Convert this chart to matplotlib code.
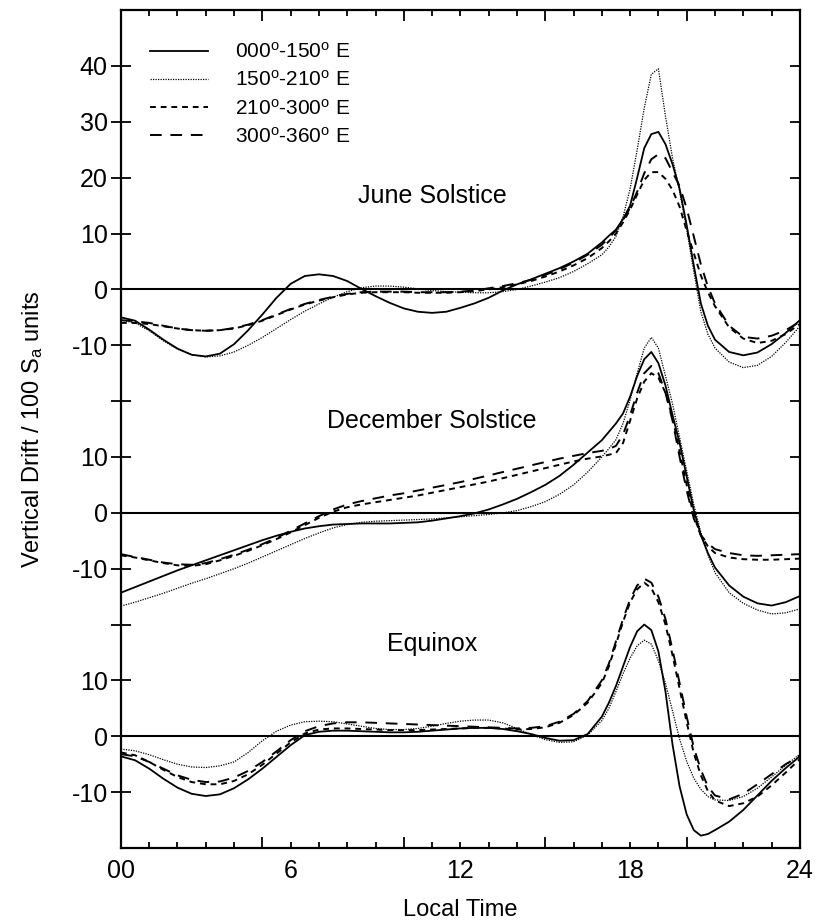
import numpy as np
import matplotlib
matplotlib.use('Agg')
import matplotlib.pyplot as plt

plt.rcParams['font.family'] = ['Liberation Sans', 'DejaVu Sans']
plt.rcParams['mathtext.fontset'] = 'custom'
plt.rcParams['mathtext.rm'] = 'Liberation Sans'
plt.rcParams['mathtext.it'] = 'Liberation Sans:italic'
plt.rcParams['axes.unicode_minus'] = False

# ---------------- data ----------------
hours = [0, 0.5, 1, 1.5, 2, 2.5, 3, 3.5, 4, 4.5, 5, 5.5, 6, 6.5, 7, 7.5, 8, 8.5,
         9, 9.5, 10, 10.5, 11, 11.5, 12, 12.5, 13, 13.5, 14, 14.5, 15, 15.5, 16, 16.5,
         17, 17.25, 17.5, 17.75, 18, 18.25, 18.5, 18.75, 19, 19.25, 19.5, 19.75,
         20, 20.25, 20.5, 20.75, 21,
         21.5, 22, 22.5, 23, 23.5, 24]

sector_labels = ['000$^\\mathrm{o}$-150$^\\mathrm{o}$ E',
                 '150$^\\mathrm{o}$-210$^\\mathrm{o}$ E',
                 '210$^\\mathrm{o}$-300$^\\mathrm{o}$ E',
                 '300$^\\mathrm{o}$-360$^\\mathrm{o}$ E']

season_names = ['June Solstice', 'December Solstice', 'Equinox']
season_offsets = [0, -40, -80]

# June solstice
june_000_150 = [-5.0, -5.6, -7.2, -9.0, -10.6, -11.7, -12.0, -11.5, -9.8, -7.3, -4.5, -1.5,
                1.0, 2.4, 2.7, 2.4, 1.5, 0.1, -1.2, -2.4, -3.4, -4.0, -4.2, -4.0, -3.3, -2.5,
                -1.5, -0.2, 0.9, 1.8, 2.8, 3.8, 5.0, 6.4,
                8.4, 9.6, 10.7, 12.6, 15.0, 20.0, 25.3, 27.8, 28.2, 26.0, 22.4, 18.0,
                11.5, 4.3, -2.5, -6.5, -9.0,
                -11.2, -11.8, -11.3, -9.8, -7.8, -5.5]
june_150_210 = [-5.5, -6.0, -7.4, -9.2, -10.7, -11.7, -12.1, -11.9, -11.2, -10.0, -8.6, -7.0,
                -5.4, -3.9, -2.6, -1.4, -0.4, 0.3, 0.6, 0.6, 0.4, 0.1, -0.2, -0.4, -0.5, -0.6,
                -0.6, -0.4, 0.0, 0.6, 1.3, 2.1, 3.2, 4.6,
                6.2, 7.6, 9.5, 13.0, 18.0, 25.0, 32.5, 38.5, 39.5, 31.0, 23.5, 17.5,
                10.8, 3.2, -4.0, -8.0, -10.5,
                -13.0, -14.0, -13.6, -12.0, -9.5, -6.6]
june_210_300 = [-6.0, -6.0, -6.2, -6.6, -7.0, -7.3, -7.4, -7.3, -7.0, -6.4, -5.6, -4.6,
                -3.6, -2.7, -2.0, -1.4, -0.9, -0.6, -0.5, -0.5, -0.5, -0.6, -0.6, -0.6, -0.5, -0.3,
                0.0, 0.4, 0.9, 1.5, 2.3, 3.2, 4.3, 5.6,
                7.4, 8.6, 10.0, 12.0, 14.3, 17.0, 19.6, 21.0, 21.0, 19.8, 17.8, 14.8,
                10.5, 6.5, 2.5, -0.5, -3.0,
                -6.8, -8.8, -9.6, -9.2, -8.0, -6.2]
june_300_360 = [-5.5, -5.7, -6.0, -6.5, -7.0, -7.3, -7.4, -7.3, -6.9, -6.3, -5.5, -4.5,
                -3.5, -2.6, -1.9, -1.3, -0.8, -0.5, -0.4, -0.4, -0.4, -0.5, -0.5, -0.5, -0.4, -0.2,
                0.2, 0.6, 1.1, 1.7, 2.6, 3.6, 4.8, 6.2,
                8.0, 9.2, 10.6, 12.4, 14.6, 17.5, 20.8, 23.3, 24.2, 23.5, 21.0, 18.5,
                14.5, 9.5, 4.5, 0.5, -2.5,
                -6.5, -8.5, -8.8, -8.3, -7.3, -5.8]

# December solstice
dec_000_150 = [-14.3, -13.3, -12.3, -11.3, -10.3, -9.4, -8.5, -7.6, -6.7, -5.8, -4.9, -4.1,
               -3.4, -2.8, -2.4, -2.1, -2.0, -1.9, -1.9, -1.9, -1.8, -1.7, -1.4, -1.0, -0.6, -0.1,
               0.6, 1.5, 2.5, 3.7, 5.0, 6.6, 8.6, 10.8,
               13.0, 14.5, 16.0, 17.8, 20.8, 24.5, 27.5, 28.8, 26.8, 22.8, 17.5, 12.5,
               6.5, 0.5, -4.0, -7.2, -9.8,
               -13.0, -15.0, -16.2, -16.6, -16.0, -14.9]
dec_150_210 = [-16.7, -16.0, -15.2, -14.4, -13.5, -12.6, -11.8, -10.9, -10.0, -9.0, -7.9, -6.8,
               -5.7, -4.6, -3.6, -2.7, -2.1, -1.7, -1.5, -1.4, -1.3, -1.2, -1.1, -0.9, -0.7, -0.5,
               -0.3, 0.0, 0.4, 1.1, 2.0, 3.3, 5.0, 7.3,
               10.0, 11.5, 13.1, 16.0, 20.2, 25.0, 29.5, 31.4, 29.5, 24.5, 19.5, 13.5,
               7.5, 1.5, -3.5, -7.5, -10.7,
               -14.3, -16.2, -17.4, -18.1, -17.9, -17.2]
dec_210_300 = [-7.6, -8.0, -8.5, -9.0, -9.4, -9.5, -9.2, -8.5, -7.7, -6.8, -5.8, -4.7,
               -3.5, -2.2, -0.9, 0.2, 1.0, 1.5, 1.9, 2.3, 2.7, 3.1, 3.6, 4.1, 4.6, 5.1,
               5.6, 6.2, 6.8, 7.4, 8.0, 8.6, 9.2, 9.7,
               10.1, 10.4, 10.7, 12.5, 16.5, 20.5, 23.5, 25.0, 24.2, 21.5, 17.0, 11.0,
               5.0, -0.5, -4.0, -6.0, -7.2,
               -8.0, -8.3, -8.4, -8.4, -8.3, -8.2]
dec_300_360 = [-7.4, -7.9, -8.4, -8.9, -9.2, -9.3, -9.0, -8.3, -7.5, -6.6, -5.6, -4.5,
               -3.2, -1.9, -0.6, 0.6, 1.5, 2.1, 2.6, 3.1, 3.5, 4.0, 4.5, 5.0, 5.5, 6.1,
               6.7, 7.3, 7.9, 8.5, 9.1, 9.7, 10.2, 10.7,
               11.1, 11.4, 12.0, 14.0, 17.5, 21.5, 25.0, 26.3, 25.0, 21.5, 16.5, 10.0,
               4.0, -1.0, -4.0, -5.5, -6.5,
               -7.2, -7.6, -7.7, -7.6, -7.5, -7.4]

# Equinox
equ_000_150 = [-3.6, -4.3, -5.8, -7.6, -9.2, -10.3, -10.7, -10.4, -9.3, -7.7, -5.8, -3.7,
               -1.6, 0.2, 0.8, 1.0, 1.0, 0.9, 0.8, 0.7, 0.7, 0.8, 1.0, 1.2, 1.4, 1.5,
               1.5, 1.3, 0.9, 0.4, -0.3, -0.8, -0.7, 0.4,
               3.5, 6.0, 9.0, 12.5, 16.0, 18.8, 20.0, 19.0, 15.2, 8.0, -1.5, -9.0,
               -14.0, -16.8, -17.8, -17.5, -16.8,
               -15.3, -13.2, -10.6, -8.0, -5.7, -3.6]
equ_150_210 = [-2.3, -2.6, -3.3, -4.2, -5.0, -5.5, -5.6, -5.3, -4.6, -2.9, -0.8, 0.9,
               2.0, 2.6, 2.7, 2.6, 2.2, 1.8, 1.4, 1.2, 1.2, 1.4, 1.8, 2.3, 2.7, 2.9,
               2.9, 2.4, 1.4, 0.3, -0.6, -1.1, -1.0, 0.2,
               2.8, 5.0, 8.0, 11.2, 14.0, 16.2, 17.2, 16.5, 13.5, 9.5, 4.5, -0.5,
               -4.5, -7.5, -9.5, -10.8, -11.4,
               -11.5, -10.8, -9.3, -7.3, -5.2, -3.2]
equ_210_300 = [-2.9, -3.4, -4.6, -6.0, -7.3, -8.2, -8.6, -8.6, -8.0, -6.8, -5.1, -3.1,
               -1.1, 0.5, 1.2, 1.4, 1.4, 1.3, 1.2, 1.1, 1.1, 1.1, 1.2, 1.3, 1.4, 1.5,
               1.5, 1.4, 1.2, 1.3, 1.6, 2.4, 3.8, 6.0,
               9.5, 12.5, 16.5, 20.5, 24.0, 26.3, 27.5, 26.5, 24.0, 20.0, 14.5, 8.5,
               2.5, -3.0, -7.0, -9.8, -11.5,
               -12.5, -12.0, -10.8, -8.8, -6.5, -4.1]
equ_300_360 = [-3.2, -3.6, -4.6, -5.8, -7.0, -7.8, -8.2, -8.1, -7.4, -6.2, -4.6, -2.7,
               -0.7, 0.9, 1.8, 2.3, 2.5, 2.5, 2.4, 2.3, 2.2, 2.1, 2.0, 1.9, 1.8, 1.7,
               1.6, 1.5, 1.4, 1.5, 1.8, 2.6, 4.0, 6.3,
               10.0, 13.0, 17.0, 21.0, 24.5, 27.0, 28.2, 27.5, 25.0, 21.0, 15.5, 9.5,
               3.5, -2.0, -6.0, -9.0, -10.6,
               -11.3, -10.3, -8.6, -6.8, -5.0, -3.5]

seasons = [
    [june_000_150, june_150_210, june_210_300, june_300_360],
    [dec_000_150, dec_150_210, dec_210_300, dec_300_360],
    [equ_000_150, equ_150_210, equ_210_300, equ_300_360],
]

ytick_vals = [40, 30, 20, 10, 0, -10, -20, -30, -40, -50, -60, -70, -80, -90]
ytick_labels = ['40', '30', '20', '10', '0', '-10', '', '10', '0', '-10', '', '10', '0', '-10']
xtick_vals = [0, 6, 12, 18, 24]
xtick_labels = ['00', '6', '12', '18', '24']

# ---------------- styles ----------------
styles = [
    dict(linestyle='-', linewidth=1.3),
    dict(linestyle=(0, (1, 1)), linewidth=0.9),
    dict(linestyle=(0, (3, 2.5)), linewidth=1.4),
    dict(linestyle=(0, (6, 4.5)), linewidth=1.4),
]

fig = plt.figure(figsize=(8.17, 9.21), dpi=100)
ax = fig.add_axes([0.148, 0.0793, 0.831, 0.9097])

h = np.array(hours)
for si, (series_list, off) in enumerate(zip(seasons, season_offsets)):
    ax.axhline(off, color='black', linewidth=1.5, zorder=1)
    for k, vals in enumerate(series_list):
        ax.plot(h, np.array(vals) + off, color='black',
                label=sector_labels[k] if si == 0 else None, zorder=2, **styles[k])

label_y = [16.8, -23.6, -63.5]
for name, ly in zip(season_names, label_y):
    ax.text(11.0, ly, name, ha='center', va='center', fontsize=18)

ax.set_xlim(0, 24)
ax.set_ylim(-100, 50)

# x ticks
major_x = [0, 5, 6, 10, 12, 15, 18, 20, 24]
ax.set_xticks(major_x)
lab_map = dict(zip(xtick_vals, xtick_labels))
ax.set_xticklabels([lab_map.get(v, '') for v in major_x], fontsize=18)
ax.set_xticks(np.arange(0, 25, 1), minor=True)
ax.tick_params(axis='x', which='both', direction='in', top=True, bottom=True,
               length=4, width=1.3, pad=8)
for t, v in zip(ax.xaxis.get_major_ticks(), major_x):
    if v in (5, 10, 15, 20):
        t.tick1line.set_markersize(8)
        t.tick2line.set_markersize(8)

# y ticks
ax.set_yticks(ytick_vals)
ax.set_yticklabels(ytick_labels, fontsize=18)
ax.tick_params(axis='y', which='major', direction='inout', left=True, right=False,
               length=14, width=1.3, pad=2.5)

ax2 = ax.twinx()
ax2.set_ylim(ax.get_ylim())
ax2.set_yticks(ytick_vals)
ax2.tick_params(axis='y', direction='in', length=7, width=1.3, labelright=False)
for sp in ax2.spines.values():
    sp.set_visible(False)

for sp in ax.spines.values():
    sp.set_linewidth(1.6)

ax.set_ylabel('Vertical Drift / 100 S$_\\mathrm{a}$ units', fontsize=17)
ax.yaxis.set_label_coords(-0.112, 0.5)
ax.set_xlabel('Local Time', fontsize=17)
ax.xaxis.set_label_coords(0.5, -0.061)

leg = ax.legend(loc='upper left', bbox_to_anchor=(0.0427, 0.962), frameon=False,
                fontsize=15, handlelength=2.8, handletextpad=1.3, labelspacing=0.39,
                borderpad=0, borderaxespad=0)

fig.savefig('out.png', dpi=100)
